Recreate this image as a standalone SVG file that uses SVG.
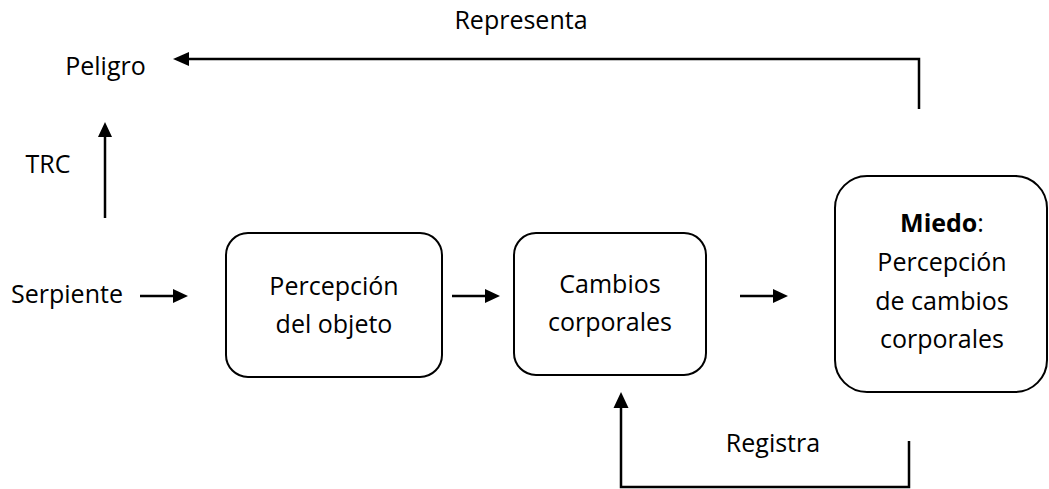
<svg xmlns="http://www.w3.org/2000/svg" width="1049" height="489" viewBox="0 0 1049 489">
<style>
text{font-family:"Open Sans","Noto Sans",sans-serif;font-size:25px;fill:#000;text-anchor:middle}
.box{fill:#fff;stroke:#000;stroke-width:2}
.ln{fill:none;stroke:#000;stroke-width:2.5}
.ah{fill:#000}
</style>
<rect width="1049" height="489" fill="#fff"/>
<g id="connectors">
<line class="ln" x1="140" y1="296" x2="174" y2="296"/><polygon class="ah" points="188,296 173,289 173,303"/>
<line class="ln" x1="105" y1="218" x2="105" y2="136"/><polygon class="ah" points="105,122 98,137 112,137"/>
<line class="ln" x1="452" y1="296" x2="486" y2="296"/><polygon class="ah" points="500,296 485,289 485,303"/>
<line class="ln" x1="740" y1="296" x2="774" y2="296"/><polygon class="ah" points="788,296 773,289 773,303"/>
<polyline class="ln" points="919,109 919,59 187,59"/><polygon class="ah" points="173,59 189,52 189,66"/>
<polyline class="ln" points="909,441 909,487 621,487 621,406"/><polygon class="ah" points="621,392 613.5,408 628.5,408"/>
</g>
<g id="n-representa"><text x="521" y="29">Representa</text></g>
<g id="n-peligro"><text x="105.5" y="75">Peligro</text></g>
<g id="n-trc"><text x="48" y="173">TRC</text></g>
<g id="n-serpiente"><text x="67" y="303">Serpiente</text></g>
<g id="n-percepcion">
<rect class="box" x="226" y="233" width="216" height="144" rx="22"/>
<text x="334" y="295">Percepción</text>
<text x="334" y="333">del objeto</text>
</g>
<g id="n-cambios">
<rect class="box" x="514" y="233" width="192" height="142" rx="22"/>
<text x="610" y="293">Cambios</text>
<text x="610" y="331">corporales</text>
</g>
<g id="n-miedo">
<rect class="box" x="835" y="176" width="212" height="216" rx="32"/>
<text x="942" y="232"><tspan font-weight="bold">Miedo</tspan>:</text>
<text x="942" y="271">Percepción</text>
<text x="942" y="310">de cambios</text>
<text x="942" y="348">corporales</text>
</g>
<g id="n-registra"><text x="773" y="452">Registra</text></g>
</svg>
